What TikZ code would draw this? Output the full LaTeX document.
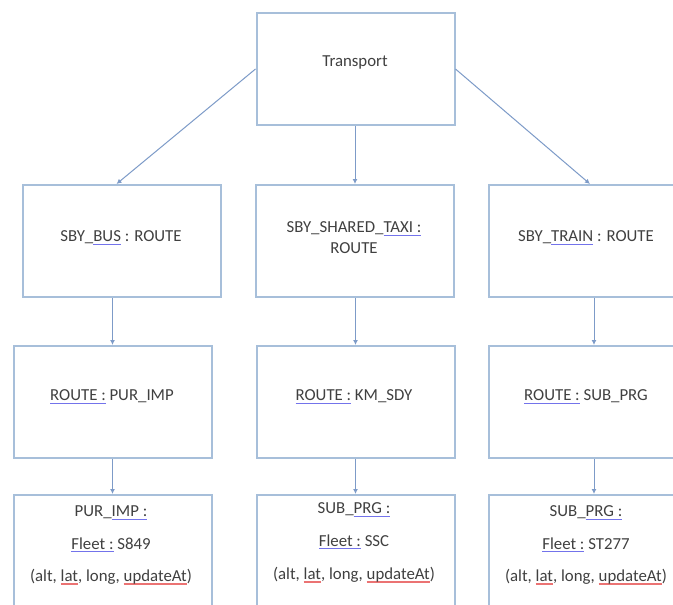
\documentclass[tikz,border=0pt]{standalone}
\usepackage{fontspec}
\setmainfont{Carlito}
\usetikzlibrary{arrows.meta}
\definecolor{boxc}{RGB}{167,191,218}
\definecolor{arrc}{RGB}{125,155,200}
\definecolor{txtc}{RGB}{64,64,64}
\definecolor{sqbc}{RGB}{115,115,235}
\definecolor{sqrc}{RGB}{235,115,115}
\newcommand\squig[2]{\setbox0\hbox{#2}\rlap{\raisebox{-3pt}{\color{#1}\rule{\wd0}{1.3pt}}}\box0\relax}
\newcommand\sqb[1]{\squig{sqbc}{#1}}
\newcommand\sqr[1]{\squig{sqrc}{#1}}
\tikzset{
  box/.style={draw=boxc, line width=2pt, fill=white, minimum width=198pt, inner sep=0pt},
  boxtall/.style={box, minimum height=112pt},
  boxlow/.style={box, minimum height=170pt},
  lbl/.style={text=txtc, font=\fontsize{16.8}{20}\selectfont, inner sep=0pt, align=center},
  conn/.style={draw=arrc, line width=1pt, -{Latex[length=5pt,width=5pt]}}
}
\begin{document}
\begin{tikzpicture}[x=1pt,y=-1pt]
\useasboundingbox (0,0) rectangle (673,605);
\clip (0,0) rectangle (673,605);
\fill[white] (0,0) rectangle (673,605);
% boxes
\node[boxtall] (T) at (355.5,69) {};
\node[boxtall] (b2) at (121.5,241) {};
\node[boxtall] (t2) at (355,241) {};
\node[boxtall] (r2) at (588,241) {};
\node[boxtall] (b3) at (112.5,402) {};
\node[boxtall] (t3) at (355.5,402) {};
\node[boxtall] (r3) at (588,402) {};
\node[boxlow] (b4) at (112.5,580) {};
\node[boxlow] (t4) at (355.5,580) {};
\node[boxlow] (r4) at (588,580) {};
% labels
\node[lbl] (Tl) at (355,62) {Transport};
\node[lbl] (b2l) at (121,238) {SBY\_\sqb{BUS} : ROUTE};
\node[lbl] (t2l1) at (354,229) {SBY\_SHARED\_\sqb{TAXI :}};
\node[lbl] (t2l2) at (354,248) {ROUTE};
\node[lbl] (r2l) at (586,238) {SBY\_\sqb{TRAIN} : ROUTE};
\node[lbl] (b3l) at (112,397) {\sqb{ROUTE :} PUR\_IMP};
\node[lbl] (t3l) at (354,397) {\sqb{ROUTE :} KM\_SDY};
\node[lbl] (r3l) at (586,397) {\sqb{ROUTE :} SUB\_PRG};
\node[lbl] (b4a) at (111,513) {PUR\_\sqb{IMP :}};
\node[lbl] (b4b) at (111,545) {\sqb{Fleet :} S849};
\node[lbl] (b4c) at (111,577) {(alt, \sqr{lat}, long, \sqr{updateAt})};
\node[lbl] (t4a) at (354,510) {SUB\_\sqb{PRG :}};
\node[lbl] (t4b) at (354,542) {\sqb{Fleet :} SSC};
\node[lbl] (t4c) at (354,575) {(alt, \sqr{lat}, long, \sqr{updateAt})};
\node[lbl] (r4a) at (586,513) {SUB\_\sqb{PRG :}};
\node[lbl] (r4b) at (586,545) {\sqb{Fleet :} ST277};
\node[lbl] (r4c) at (586,577) {(alt, \sqr{lat}, long, \sqr{updateAt})};
% connectors
\draw[conn] (T.west) -- ([xshift=-5pt]b2.north);
\draw[conn] (T.south -| t2.north) -- (t2.north);
\draw[conn] (T.east) -- ([xshift=2pt]r2.north);
\draw[conn] (b3.north |- b2.south) -- (b3.north);
\draw[conn] (t3.north |- t2.south) -- (t3.north);
\draw[conn] ([xshift=6pt]r3.north |- r2.south) -- ([xshift=6pt]r3.north);
\draw[conn] (b3.south) -- (b4.north);
\draw[conn] (t3.south) -- (t4.north);
\draw[conn] ([xshift=6pt]r3.south) -- ([xshift=6pt]r4.north);
\end{tikzpicture}
\end{document}
